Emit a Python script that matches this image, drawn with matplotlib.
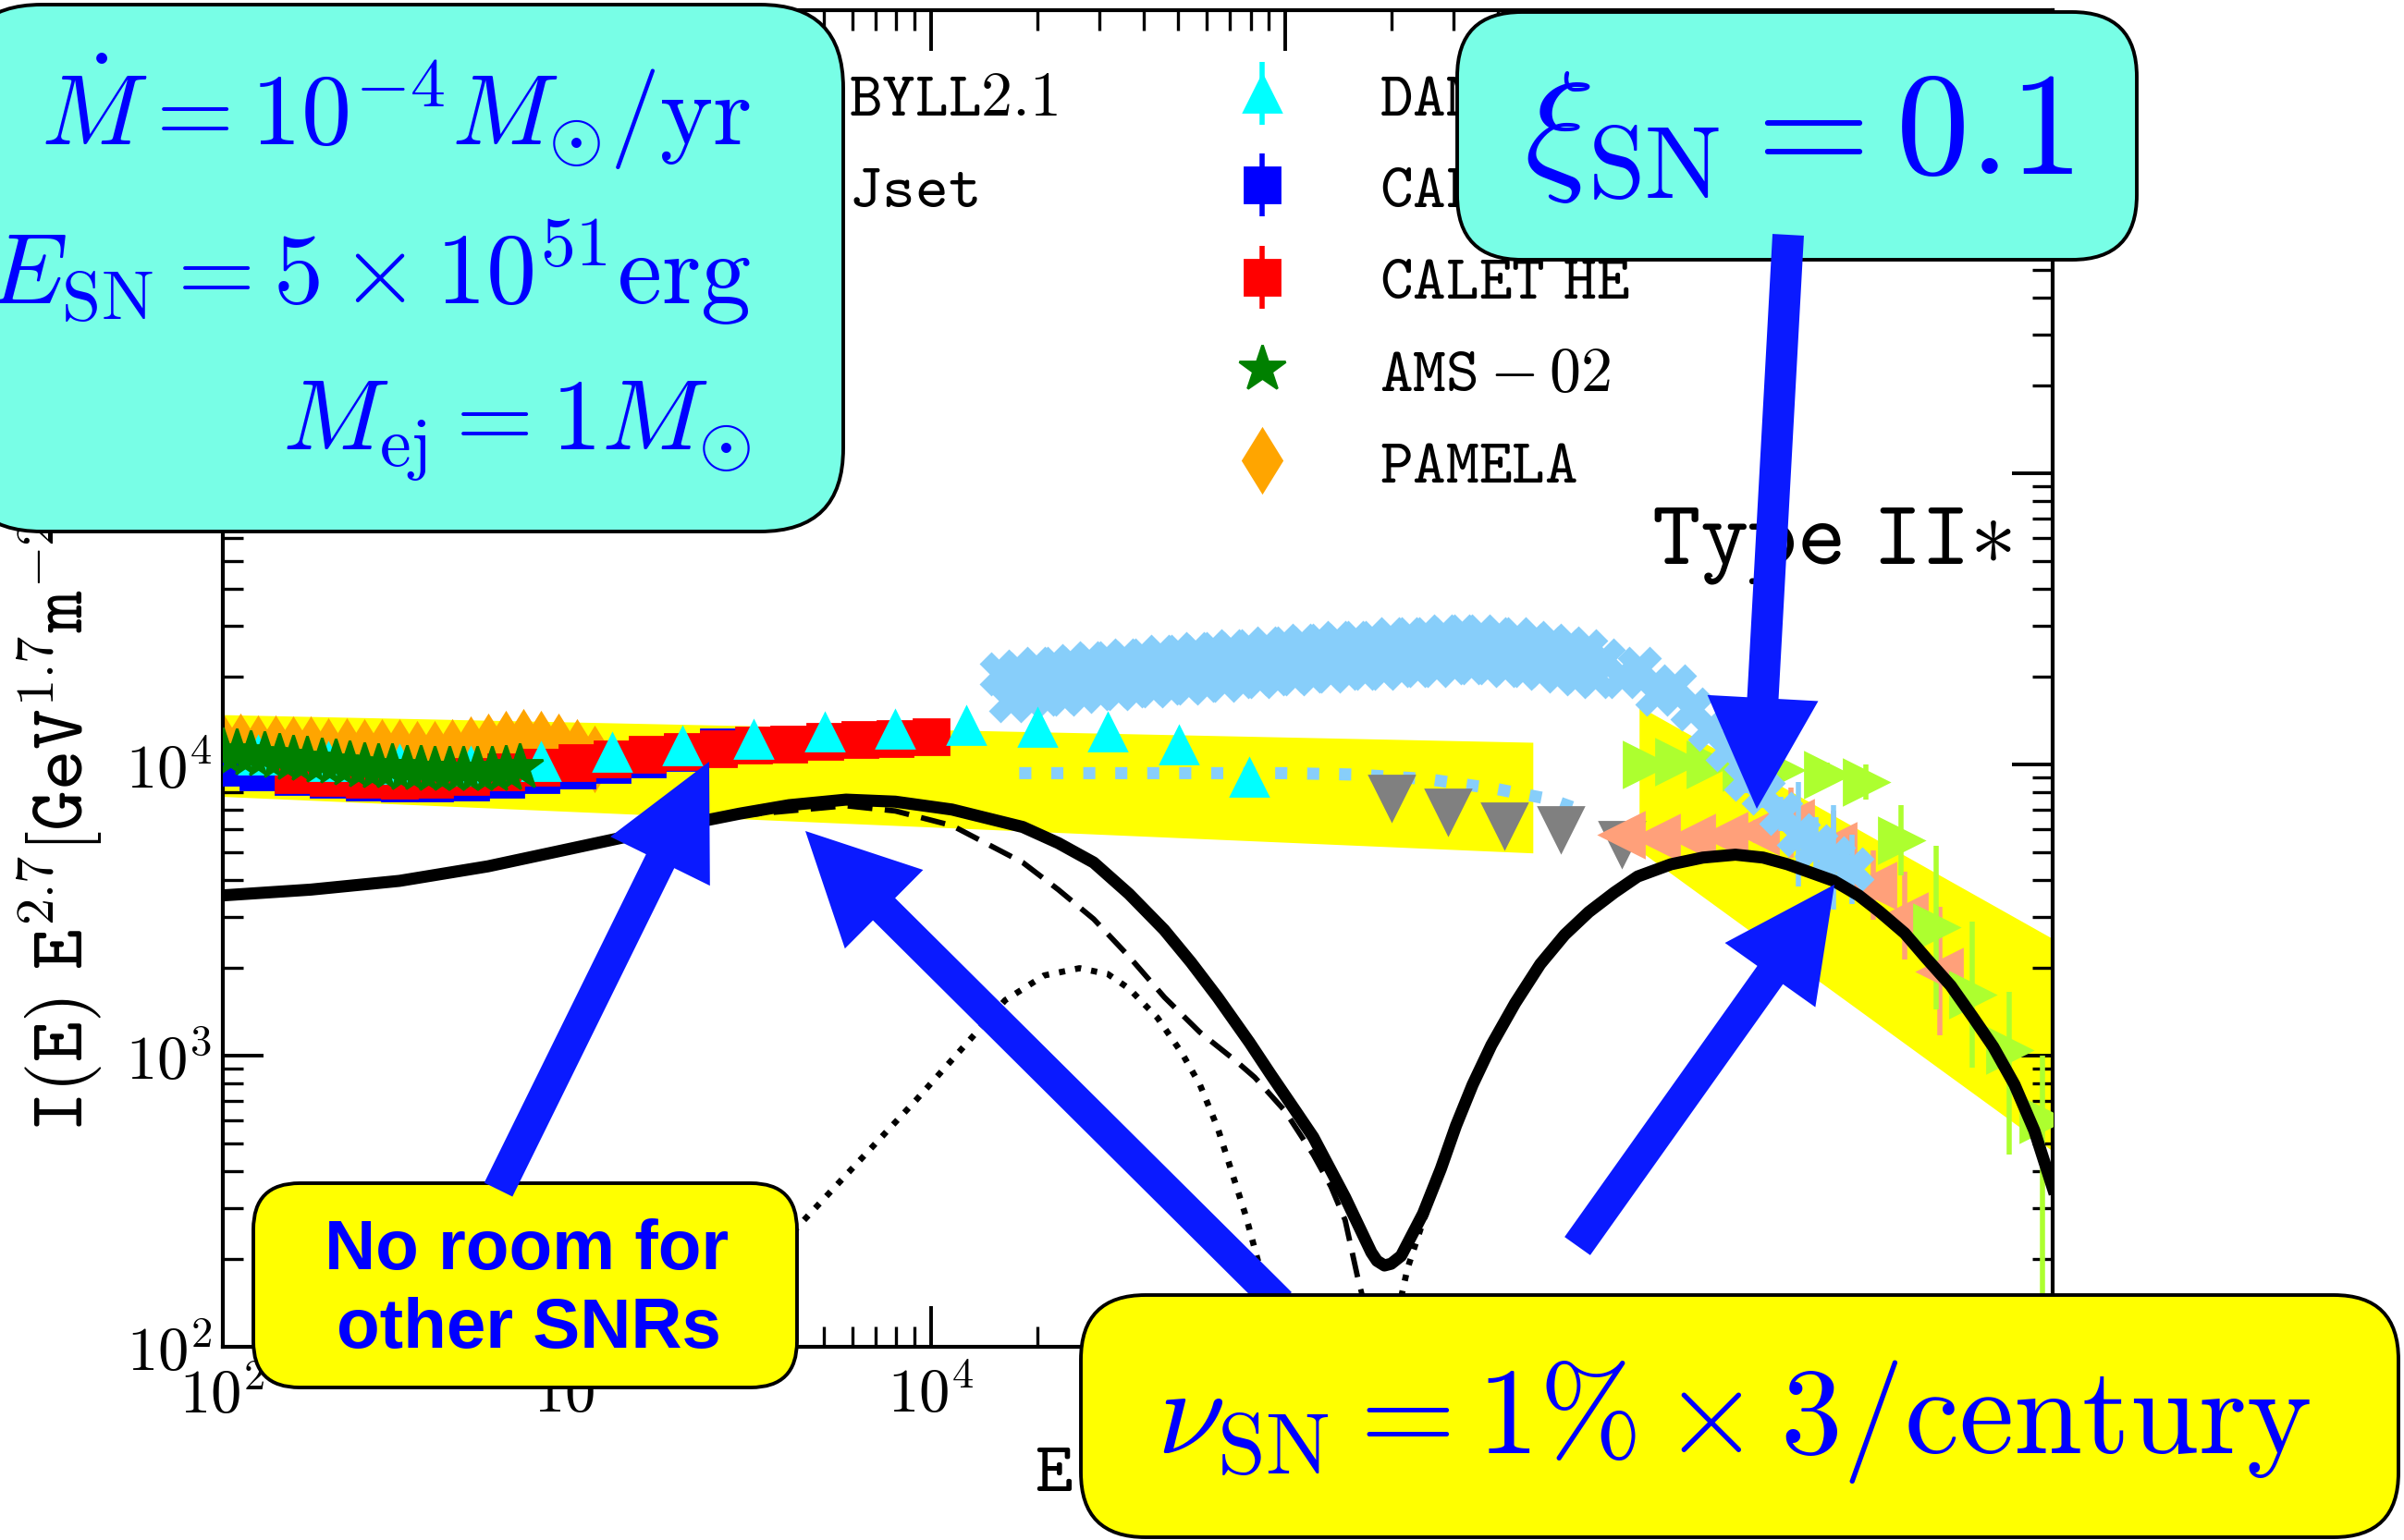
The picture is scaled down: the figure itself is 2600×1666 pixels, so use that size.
import numpy as np
import matplotlib
matplotlib.use("Agg")
import matplotlib.pyplot as plt
from matplotlib.lines import Line2D
from matplotlib.patches import FancyBboxPatch, FancyArrow
from matplotlib.ticker import FuncFormatter

plt.rcParams['mathtext.fontset'] = 'cm'

# values, as log10(E / GeV) and log10(I E^2.7)
total_logE = [2.0, 2.25, 2.5, 2.75, 3.0, 3.25, 3.461, 3.6, 3.761, 3.9, 4.06, 4.26, 4.36, 4.46, 4.56,
              4.659, 4.735, 4.81, 4.9, 4.96, 5.03, 5.08, 5.17, 5.244, 5.26, 5.281, 5.3, 5.328,
              5.39, 5.44, 5.483, 5.53, 5.583, 5.65, 5.721, 5.79, 5.858, 5.93, 5.996, 6.09, 6.18,
              6.272, 6.35, 6.419, 6.55, 6.62, 6.68, 6.75, 6.811, 6.88, 6.942, 7.0, 7.06, 7.116,
              7.168]
total_logI = [3.55, 3.57, 3.60, 3.65, 3.715, 3.78, 3.831, 3.86, 3.879, 3.872, 3.845, 3.785, 3.73,
              3.663, 3.555, 3.432, 3.32, 3.20, 3.045, 2.935, 2.81, 2.72, 2.513, 2.324, 2.295,
              2.279, 2.285, 2.312, 2.457, 2.61, 2.759, 2.90, 3.036, 3.18, 3.314, 3.415, 3.493,
              3.56, 3.615, 3.657, 3.68, 3.69, 3.68, 3.657, 3.60, 3.55, 3.493, 3.42, 3.334, 3.24,
              3.133, 3.03, 2.90, 2.742, 2.545]

wind_logE = [2.0, 2.5, 3.0, 3.461, 3.761, 3.9, 4.06, 4.26, 4.36, 4.46, 4.56, 4.66, 4.76, 4.86,
             4.915, 5.0, 5.08, 5.13, 5.17, 5.206, 5.23, 5.26]
wind_logI = [3.55, 3.60, 3.71, 3.825, 3.858, 3.84, 3.79, 3.663, 3.57, 3.469, 3.34, 3.20, 3.08,
             2.983, 2.925, 2.81, 2.66, 2.55, 2.435, 2.235, 2.12, 1.95]

ism_logE = [3.3, 3.62, 3.96, 4.21, 4.32, 4.42, 4.5, 4.56, 4.64, 4.71, 4.76, 4.81, 4.89, 4.925,
            4.96, 4.99]
ism_logI = [1.98, 2.406, 2.849, 3.19, 3.275, 3.30, 3.28, 3.23, 3.13, 3.007, 2.90, 2.752, 2.448,
            2.29, 2.1, 1.9]

type2_logE = [5.30, 5.33, 5.346, 5.364, 5.39, 5.44, 5.483, 5.53, 5.583, 5.65, 5.721, 5.79]
type2_logI = [1.95, 2.18, 2.268, 2.335, 2.43, 2.60, 2.755, 2.895, 3.03, 3.175, 3.31, 3.41]

byll_logE = [2.0, 5.7]
byll_low = [3.89, 3.696]
byll_high = [4.171, 4.076]

jset_logE = [6.0, 7.17]
jset_low = [3.705, 2.67]
jset_high = [4.20, 3.40]

dampe_logE = [2.1, 2.3, 2.5, 2.7, 2.9, 3.1, 3.3, 3.5, 3.7, 3.9, 4.1, 4.3, 4.5, 4.7, 4.9]
dampe_logI = [4.03, 4.01, 4.0, 3.995, 4.01, 4.04, 4.063, 4.084, 4.112, 4.121, 4.133, 4.128,
              4.11, 4.066, 3.955]
dampe_err = [0.015, 0.015, 0.015, 0.015, 0.015, 0.015, 0.015, 0.015, 0.02, 0.02, 0.025, 0.03,
             0.035, 0.04, 0.05]

calet_logE = [2.0, 2.1, 2.2, 2.3, 2.4, 2.5, 2.6, 2.7, 2.8, 2.9, 3.0, 3.1, 3.2, 3.3, 3.4]
calet_logI = [3.99, 3.975, 3.96, 3.95, 3.94, 3.935, 3.935, 3.94, 3.95, 3.965, 3.98, 4.0, 4.02,
              4.04, 4.06]
calet_err = 0.02

calethe_logE = [2.2, 2.3, 2.4, 2.5, 2.6, 2.7, 2.8, 2.9, 3.0, 3.1, 3.2, 3.3, 3.4, 3.5, 3.6, 3.7,
                3.8, 3.9, 4.0]
calethe_logI = [3.965, 3.955, 3.95, 3.945, 3.95, 3.96, 3.975, 3.99, 4.005, 4.02, 4.035, 4.045,
                4.055, 4.065, 4.07, 4.08, 4.085, 4.09, 4.095]
calethe_err = 0.02

ams_logE = [2.0, 2.04, 2.08, 2.12, 2.16, 2.2, 2.24, 2.28, 2.32, 2.36, 2.4, 2.44, 2.48, 2.52, 2.56,
            2.6, 2.64, 2.68, 2.72, 2.76, 2.8, 2.84]
ams_logI = [4.045, 4.04, 4.035, 4.03, 4.025, 4.02, 4.015, 4.01, 4.005, 4.0, 3.995, 3.99, 3.99,
            3.985, 3.985, 3.98, 3.98, 3.98, 3.98, 3.98, 3.985, 3.99]

pamela_logE = [2.0, 2.05, 2.1, 2.15, 2.2, 2.25, 2.3, 2.35, 2.4, 2.45, 2.5, 2.55, 2.6, 2.65, 2.7,
               2.75, 2.8, 2.85, 2.9, 2.95, 3.0, 3.05]
pamela_logI = [4.06, 4.06, 4.055, 4.055, 4.05, 4.05, 4.045, 4.045, 4.04, 4.04, 4.04, 4.035, 4.035,
               4.04, 4.05, 4.06, 4.07, 4.075, 4.07, 4.06, 4.04, 4.02]

# light blue crosses: two overlapping rows, then the knee
xa_logE = [4.2, 4.25, 4.3, 4.35, 4.4, 4.45, 4.5, 4.55, 4.6, 4.65, 4.7, 4.75, 4.8, 4.85, 4.9, 4.95,
           5.0, 5.05, 5.1, 5.15, 5.2, 5.25, 5.3, 5.35, 5.4, 5.45, 5.5, 5.55, 5.6, 5.65, 5.7, 5.75,
           5.8, 5.85]
xa_logI = [4.31, 4.32, 4.33, 4.33, 4.34, 4.35, 4.35, 4.36, 4.36, 4.37, 4.37, 4.38, 4.38, 4.39,
           4.39, 4.40, 4.40, 4.41, 4.41, 4.42, 4.42, 4.42, 4.43, 4.43, 4.43, 4.44, 4.44, 4.44,
           4.43, 4.43, 4.42, 4.41, 4.40, 4.39]
xb_logE = [4.225, 4.275, 4.325, 4.375, 4.425, 4.475, 4.525, 4.575, 4.625, 4.675, 4.725, 4.775,
           4.825, 4.875, 4.925, 4.975, 5.025, 5.075, 5.125, 5.175, 5.225, 5.275, 5.325, 5.375,
           5.425, 5.475, 5.525, 5.575, 5.625, 5.675, 5.725, 5.775, 5.825, 5.875]
xb_logI = [4.22, 4.23, 4.24, 4.24, 4.25, 4.26, 4.26, 4.27, 4.27, 4.28, 4.28, 4.29, 4.29, 4.30,
           4.30, 4.31, 4.31, 4.32, 4.32, 4.33, 4.33, 4.33, 4.34, 4.34, 4.34, 4.35, 4.35, 4.35,
           4.34, 4.34, 4.33, 4.32, 4.31, 4.30]
knee_logE = [5.9, 5.95, 6.0, 6.05, 6.1, 6.15, 6.2, 6.25, 6.3, 6.35, 6.4, 6.45, 6.5, 6.55, 6.6]
knee_logI = [4.36, 4.30, 4.33, 4.24, 4.27, 4.19, 4.12, 4.05, 3.95, 3.90, 3.83, 3.76, 3.72, 3.68,
             3.64]
knee_err = [0.03, 0.03, 0.03, 0.03, 0.03, 0.04, 0.04, 0.04, 0.05, 0.05, 0.06, 0.18, 0.1, 0.18, 0.12]

trend_logE = [4.25, 4.6, 5.0, 5.2, 5.4, 5.6, 5.75, 5.83]
trend_logI = [3.97, 3.97, 3.97, 3.965, 3.95, 3.915, 3.88, 3.845]

gray_logE = [5.30, 5.46, 5.62, 5.78, 5.95]
gray_logI = [3.886, 3.838, 3.79, 3.779, 3.727]

salmon_logE = [5.95, 6.05, 6.15, 6.24, 6.33, 6.43, 6.55, 6.66, 6.75, 6.85]
salmon_logI = [3.76, 3.75, 3.75, 3.755, 3.77, 3.80, 3.72, 3.585, 3.48, 3.29]
salmon_err = [0.03, 0.03, 0.03, 0.03, 0.04, 0.12, 0.12, 0.12, 0.15, 0.22]

green_logE = [6.02, 6.11, 6.2, 6.3, 6.4, 6.53, 6.64, 6.74, 6.84, 6.94, 7.045, 7.14]
green_logI = [4.00, 4.01, 4.00, 3.99, 3.98, 3.965, 3.94, 3.74, 3.44, 3.21, 3.02, 2.78]
green_err_lo = [0.03, 0.03, 0.03, 0.03, 0.04, 0.04, 0.06, 0.12, 0.28, 0.25, 0.36, 0.73]
green_err_hi = [0.03, 0.03, 0.03, 0.03, 0.04, 0.04, 0.06, 0.12, 0.28, 0.25, 0.2, 0.22]


def tenpow(v):
    return np.power(10.0, np.asarray(v, dtype=float))


def bars(logI, lo, hi=None):
    I = tenpow(logI)
    lo = np.asarray(lo, dtype=float)
    hi = lo if hi is None else np.asarray(hi, dtype=float)
    return [I - I / 10 ** lo, I * 10 ** hi - I]


fig = plt.figure(figsize=(13, 8.33), dpi=200)
ax = fig.add_axes([0.0925, 0.1255, 0.7613, 0.8676])
ax.set_xscale('log')
ax.set_yscale('log')

h_byll = ax.fill_between(tenpow(byll_logE), tenpow(byll_low), tenpow(byll_high),
                         color='#FFFF00', lw=0, zorder=1)
h_jset = ax.fill_between(tenpow(jset_logE), tenpow(jset_low), tenpow(jset_high),
                         color='#FFFF00', lw=0, zorder=1)

h_pamela, = ax.plot(tenpow(pamela_logE), tenpow(pamela_logI), 'd', color='orange', ms=17.5,
                    ls='none', zorder=2)
h_calet = ax.errorbar(tenpow(calet_logE), tenpow(calet_logI), yerr=bars(calet_logI, calet_err),
                      fmt='s', color='blue', ms=14, elinewidth=2, capsize=0, zorder=3)
h_calethe = ax.errorbar(tenpow(calethe_logE), tenpow(calethe_logI),
                        yerr=bars(calethe_logI, calethe_err),
                        fmt='s', color='red', ms=14, elinewidth=2, capsize=0, zorder=4)
h_dampe = ax.errorbar(tenpow(dampe_logE), tenpow(dampe_logI), yerr=bars(dampe_logI, dampe_err),
                      fmt='^', color='cyan', ms=14.5, elinewidth=2, capsize=0, zorder=5)
h_ams, = ax.plot(tenpow(ams_logE), tenpow(ams_logI), '*', color='green', ms=19, ls='none',
                 zorder=6)

ax.plot(tenpow(trend_logE), tenpow(trend_logI), ls=':', color='lightskyblue', lw=4.7, zorder=3)
ax.plot(tenpow(xa_logE), tenpow(xa_logI), 'X', color='lightskyblue', ms=16, ls='none', zorder=3)
ax.plot(tenpow(xb_logE), tenpow(xb_logI), 'X', color='lightskyblue', ms=16, ls='none', zorder=3)
ax.errorbar(tenpow(gray_logE), tenpow(gray_logI), fmt='v', color='gray', ms=17.5, zorder=4)
ax.errorbar(tenpow(salmon_logE), tenpow(salmon_logI), yerr=bars(salmon_logI, salmon_err),
            fmt='<', color='lightsalmon', ms=17.5, elinewidth=2, capsize=0, zorder=4)
ax.errorbar(tenpow(green_logE), tenpow(green_logI),
            yerr=bars(green_logI, green_err_lo, green_err_hi),
            fmt='>', color='greenyellow', ms=17.5, elinewidth=2, capsize=0, zorder=4)
ax.errorbar(tenpow(knee_logE), tenpow(knee_logI), yerr=bars(knee_logI, knee_err),
            fmt='X', color='lightskyblue', ms=16, elinewidth=2, capsize=0, zorder=5)

ax.plot(tenpow(ism_logE), tenpow(ism_logI), ls=':', color='black', lw=2.4, zorder=7)
ax.plot(tenpow(type2_logE), tenpow(type2_logI), ls=':', color='black', lw=2.4, zorder=7)
ax.plot(tenpow(wind_logE), tenpow(wind_logI), ls='--', dashes=(4.6, 2.3), color='black', lw=2.1,
        zorder=7)
ax.plot(tenpow(total_logE), tenpow(total_logI), '-', color='black', lw=4.7, zorder=8,
        solid_joinstyle='round')

ax.set_xlim(1e2, 1.47e7)
ax.set_ylim(1e2, 3.88e6)
decade = FuncFormatter(lambda v, pos: r'$10^{%d}$' % round(np.log10(v)))
ax.xaxis.set_major_formatter(decade)
ax.yaxis.set_major_formatter(decade)
ax.tick_params(which='both', direction='in', top=True, right=True, labelsize=24)
ax.tick_params(which='major', length=15.8, width=1.4)
ax.tick_params(which='minor', length=8, width=1.2)
ax.tick_params(axis='x', pad=7)
ax.tick_params(axis='y', pad=4)
for s in ax.spines.values():
    s.set_linewidth(1.5)

ax.set_xlabel(r'$\mathtt{E\ [GeV]}$', fontsize=28)
ax.set_ylabel(r'$\mathtt{I(E)\ E}^{2.7}[\mathtt{GeV}^{1.7}\mathtt{m}^{-2}\mathtt{s}^{-1}'
              r'\mathtt{sr}^{-1}]$', fontsize=30)
ax.yaxis.set_label_coords(-0.064, 0.5)

blank = Line2D([], [], ls='none')
handles = [h_byll, h_jset, blank, blank, blank, h_dampe, h_calet, h_calethe, h_ams, h_pamela]
labels = [r'$\mathtt{BYLL2.1}$', r'$\mathtt{Jset}$', '', '', '',
          r'$\mathtt{DAMPE}$', r'$\mathtt{CALET}$', r'$\mathtt{CALET\ HE}$',
          r'$\mathtt{AMS-02}$', r'$\mathtt{PAMELA}$']
ax.legend(handles, labels, ncol=2, loc='upper left', bbox_to_anchor=(0.2127, 1.0),
          frameon=False, fontsize=24.5, handletextpad=0.87, columnspacing=2.24,
          labelspacing=0.49, handlelength=2.0)

ax.text(0.9777, 0.586, r'$\mathtt{Type\ II}{\ast}$', transform=ax.transAxes, ha='right',
        va='baseline', fontsize=36)


# slide overlays, placed in pixels of the 2600x1666 canvas measured from the top-left
def card(x0, y0, x1, y1, color, r, z):
    box = FancyBboxPatch((x0 / 200, (1666 - y1) / 200), (x1 - x0) / 200, (y1 - y0) / 200,
                         boxstyle=f"round,pad=0,rounding_size={r}",
                         transform=fig.dpi_scale_trans, fc=color, ec='black', lw=1.4, zorder=z)
    fig.add_artist(box)


def note(x, y, s, size, z, ha='center', **kw):
    fig.text(x / 200, (1666 - y) / 200, s, transform=fig.dpi_scale_trans, ha=ha,
             va='baseline', fontsize=size, color='#0000FF', zorder=z, **kw)


def pointer(x0, y0, x1, y1, z):
    arr = FancyArrow(x0 / 200, (1666 - y0) / 200, (x1 - x0) / 200, (y0 - y1) / 200,
                     width=0.17, head_width=0.6, head_length=0.6, length_includes_head=True,
                     transform=fig.dpi_scale_trans, color='#0A1AFF', lw=0, zorder=z)
    fig.add_artist(arr)


card(-45, 5, 912, 575, '#78FEE6', 0.45, 10)
note(812, 157, r'$\dot{M} = 10^{-4} M_{\odot}/\mathrm{yr}$', 39, 11, ha='right')
note(812, 329, r'$E_{\rm SN} = 5 \times 10^{51}\mathrm{erg}$', 39, 11, ha='right')
note(812, 488, r'$M_{\rm ej} = 1 M_{\odot}$', 39, 11, ha='right')

card(1576, 13, 2311, 281, '#78FEE6', 0.35, 10)
note(1945, 188, r'$\xi_{\rm SN} = 0.1$', 57, 11)

card(274, 1280, 862, 1501, '#FFFF00', 0.25, 10)
note(570, 1373, 'No room for', 27.5, 11, family='Liberation Sans', weight='bold')
note(572, 1458, 'other SNRs', 27.5, 11, family='Liberation Sans', weight='bold')

pointer(539, 1287, 767, 824, 12)
pointer(1385, 1410, 871, 899, 12)
pointer(1706, 1348, 1984, 957, 12)
pointer(1934, 254, 1900, 875, 12)

card(1169, 1401, 2594, 1663, '#FFFF00', 0.35, 13)
note(1875, 1572, r'$\nu_{\rm SN} = 1\% \times 3/\mathrm{century}$', 48, 14)

fig.savefig('out.png', dpi=200)
